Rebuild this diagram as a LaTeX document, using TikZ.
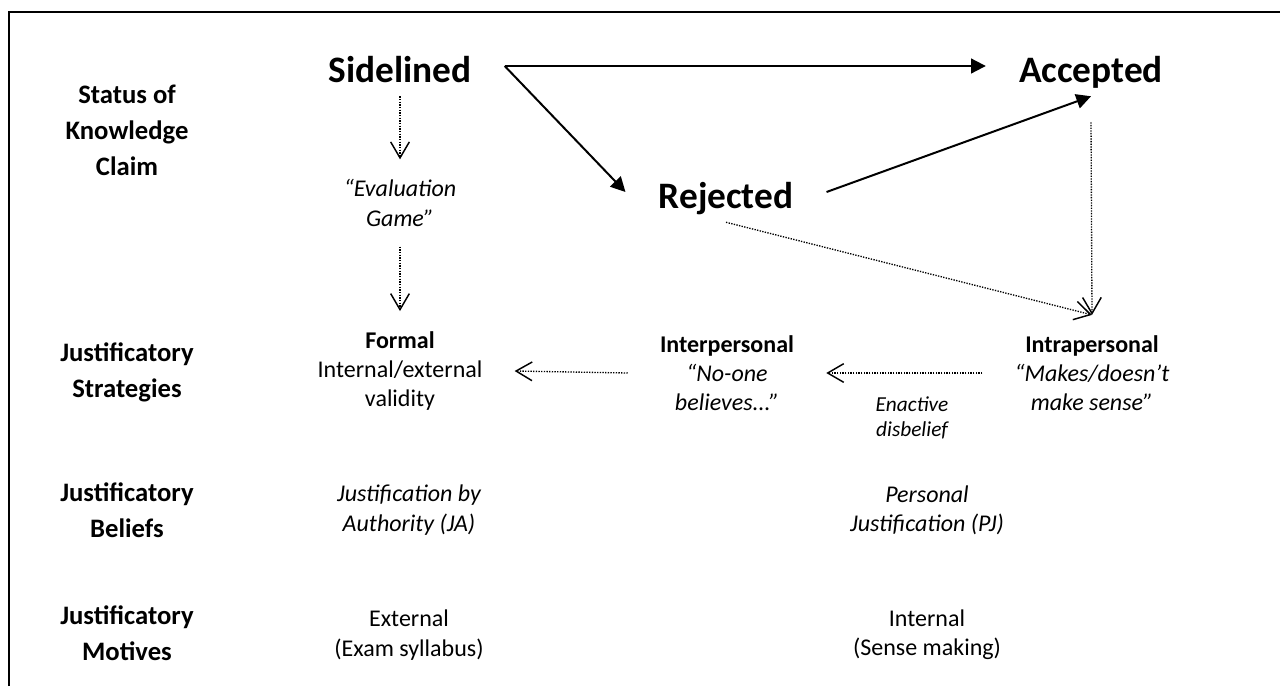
\documentclass[tikz,border=0pt]{standalone}
\usepackage{fontspec}
\setmainfont{Carlito}
\usepackage{tikz}
\usetikzlibrary{arrows.meta, positioning, calc}
\tikzset{
  % Text styles
  rowlabel/.style={font=\fontsize{20}{27}\selectfont\bfseries, align=center},
  statusword/.style={font=\fontsize{28}{34}\selectfont\bfseries, inner xsep=24.75pt, inner ysep=7.5pt, text height=27pt, text depth=3pt},
  strategytext/.style={font=\fontsize{18}{22}\selectfont, align=center, inner xsep=24pt, inner ysep=15pt},
  quotetext/.style={font=\fontsize{18}{22}\selectfont\itshape, align=center, inner xsep=24pt, inner ysep=15pt},
  smalllabel/.style={font=\fontsize{16}{19}\selectfont\itshape, align=center, inner sep=0pt},
  % Arrow styles
  solidarrow/.style={-{Triangle[length=11pt, width=11pt]}, line width=1.5pt},
  dotarrow/.style={-{Straight Barb[length=12pt, width=14pt, line width=1.1pt]}, line width=1pt, dash pattern=on 1pt off 1pt},
  frameline/.style={line width=1.5pt}
}

\begin{document}
\begin{tikzpicture}[x=0.75pt, y=-0.75pt]
  \useasboundingbox (0,0) rectangle (1280,686);
  \draw[frameline] (9,686) -- (9,12) -- (1280,12);

  % Row labels
  \node[rowlabel] (status) at (127,130) {Status of\\Knowledge\\Claim};
  \node[rowlabel] (strategies) at (127,372) {Justificatory\\Strategies};
  \node[rowlabel] (beliefs) at (127,510) {Justificatory\\Beliefs};
  \node[rowlabel] (motives) at (127,633) {Justificatory\\Motives};

  % Status of the knowledge claim
  \node[statusword] (sidelined) at (400,66) {Sidelined};
  \node[statusword] (accepted) at (1091,66) {Accepted};
  \node[statusword] (rejected) at (726,192) {Rejected};
  \node[quotetext] (evalgame) at (400,203) {“Evaluation\\Game”};

  % Justificatory strategies
  \node[strategytext] (formal) at (400,371) {\textbf{Formal}\\Internal/external\\validity};
  \node[strategytext] (interpersonal) at (727,373) {\textbf{Interpersonal}\\\textit{“No-one}\\\textit{believes...”}};
  \node[strategytext] (intrapersonal) at (1092,373) {\textbf{Intrapersonal}\\\textit{“Makes/doesn’t}\\\textit{make sense”}};

  % Beliefs and motives
  \node[quotetext] (jabelief) at (409,510) {Justification by\\Authority (JA)};
  \node[quotetext] (pjbelief) at (927,510) {Personal\\Justification (PJ)};
  \node[strategytext] (external) at (409,635) {External\\(Exam syllabus)};
  \node[strategytext] (internal) at (927,635) {Internal\\(Sense making)};

  % Arrows
  \draw[solidarrow] (sidelined.east) -- (accepted.west);
  \draw[solidarrow] (sidelined.east) -- (rejected.west);
  \draw[solidarrow] (rejected.east) -- (accepted.south);
  \draw[dotarrow] (sidelined.south) -- (evalgame.north);
  \draw[dotarrow] (evalgame.south) -- (formal.north);
  \draw[dotarrow] ($(accepted.south)+(0,26)$) -- (intrapersonal.north);
  \draw[dotarrow] (rejected.south) -- (intrapersonal.north);
  \draw[dotarrow] (interpersonal.west) -- (formal.east);
  \draw[dotarrow] (intrapersonal.west) -- node[smalllabel, pos=0.45, below=17pt] (enactive) {Enactive\\disbelief} (interpersonal.east);
\end{tikzpicture}
\end{document}
